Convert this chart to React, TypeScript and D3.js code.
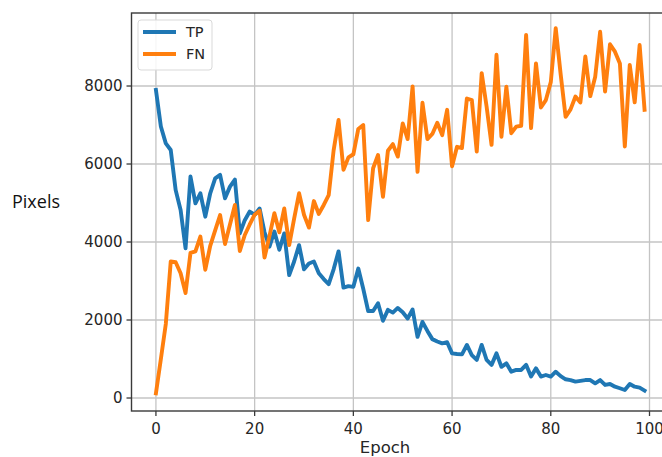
import React, { useEffect } from 'react';
import * as d3 from 'd3';

// per-epoch pixel counts
const tpValues = [
  7900, 6960, 6530, 6360, 5330, 4820, 3840, 5680, 4990, 5250,
  4650, 5250, 5630, 5720, 5120, 5420, 5600, 4220, 4560, 4780,
  4700, 4860, 4250, 3880, 4270, 3800, 4220, 3150, 3500, 3920,
  3300, 3450, 3500, 3200, 3050, 2920, 3300, 3760, 2830, 2870,
  2850, 3320, 2800, 2230, 2230, 2430, 1980, 2260, 2190, 2310,
  2200, 2040, 2270, 1570, 1950, 1720, 1510, 1450, 1400, 1430,
  1145, 1130, 1120, 1360, 1100, 975, 1360, 975, 850, 1145,
  800, 890, 675, 720, 720, 850, 550, 760, 550, 590,
  550, 675, 560, 480, 460, 420, 440, 460, 460, 375,
  460, 335, 360, 290, 250, 205, 360, 290, 265, 190,
];

const fnValues = [
  120, 1000, 1900, 3500, 3480, 3200, 2690, 3720, 3760, 4140,
  3290, 3900, 4300, 4690, 3950, 4450, 4950, 3770, 4180, 4450,
  4700, 4800, 3600, 4150, 4740, 4250, 4860, 3920, 4600, 5250,
  4700, 4370, 5050, 4720, 4950, 5200, 6350, 7130, 5850, 6170,
  6250, 6900, 7000, 4560, 5890, 6230, 5160, 6340, 6510, 6190,
  7040, 6640, 7990, 5800, 7570, 6640, 6770, 7060, 6740, 7390,
  5940, 6440, 6410, 7680, 7640, 6320, 8330, 7470, 6490, 8800,
  6700, 7980, 6790, 6960, 6980, 9310, 6920, 8580, 7450, 7640,
  8100, 9480, 8300, 7210, 7400, 7730, 7580, 8760, 7740, 8240,
  9390, 7860, 9070, 8880, 8580, 6450, 8540, 7580, 9050, 7390,
];

const seriesNames = ['TP', 'FN'];
const seriesColors = ['#1f77b4', '#ff7f0e'];
const xTicks = [0, 20, 40, 60, 80, 100];
const yTicks = [0, 2000, 4000, 6000, 8000];

const W = 662;
const H = 457;
const left = 131.5;
const right = 669;
const top = 13;
const bottom = 411;

export default function App() {
  useEffect(() => {
    document.body.style.margin = '0';
  }, []);

  const x = d3.scaleLinear().domain([-4.95, 103.95]).range([left, right]);
  const y = d3.scaleLinear().domain([-333, 9872]).range([bottom, top]);

  const line = d3
    .line<number>()
    .x((_, i) => x(i))
    .y((d) => y(d));

  const series = [tpValues, fnValues];
  const tickFont = 'DejaVu Sans, sans-serif';

  return (
    <svg width={W} height={H} style={{ display: 'block', background: '#fff' }}>
      <defs>
        <clipPath id="plot">
          <rect x={left} y={top} width={right - left} height={bottom - top} />
        </clipPath>
      </defs>

      {/* grid */}
      {xTicks.map((t) => (
        <line key={'gx' + t} x1={x(t)} x2={x(t)} y1={top} y2={bottom} stroke="#c4c4c4" strokeWidth={1.3} />
      ))}
      {yTicks.map((t) => (
        <line key={'gy' + t} x1={left} x2={right} y1={y(t)} y2={y(t)} stroke="#c4c4c4" strokeWidth={1.3} />
      ))}

      {/* lines */}
      <g clipPath="url(#plot)">
        {series.map((s, i) => (
          <path
            key={seriesNames[i]}
            d={line(s) || ''}
            fill="none"
            stroke={seriesColors[i]}
            strokeWidth={3.9}
            strokeLinejoin="round"
            strokeLinecap="square"
          />
        ))}
      </g>

      {/* spines */}
      <rect x={left} y={top} width={right - left} height={bottom - top} fill="none" stroke="#3a3a3a" strokeWidth={1.4} />

      {/* x axis */}
      {xTicks.map((t) => (
        <g key={'xt' + t}>
          <line x1={x(t)} x2={x(t)} y1={bottom} y2={bottom + 5} stroke="#3a3a3a" strokeWidth={1.3} />
          <text x={x(t)} y={bottom + 23} textAnchor="middle" fontFamily={tickFont} fontSize={15} fill="#262626">
            {t}
          </text>
        </g>
      ))}
      <text x={385} y={453} textAnchor="middle" fontFamily={tickFont} fontSize={16.5} fill="#262626">
        Epoch
      </text>

      {/* y axis */}
      {yTicks.map((t) => (
        <g key={'yt' + t}>
          <line x1={left - 5} x2={left} y1={y(t)} y2={y(t)} stroke="#3a3a3a" strokeWidth={1.3} />
          <text x={left - 9} y={y(t)} dy="0.36em" textAnchor="end" fontFamily={tickFont} fontSize={15} fill="#262626">
            {t}
          </text>
        </g>
      ))}
      <text x={12} y={208} fontFamily="Open Sans, sans-serif" fontSize={18} fill="#111">
        Pixels
      </text>

      {/* legend */}
      <rect x={138} y={20} width={74} height={50} rx={3} fill="#fff" fillOpacity={0.85} stroke="#d9d9d9" strokeWidth={1} />
      {seriesNames.map((n, i) => (
        <g key={'lg' + n}>
          <line x1={143} x2={176} y1={32 + i * 22} y2={32 + i * 22} stroke={seriesColors[i]} strokeWidth={3.9} />
          <text x={186} y={32 + i * 22} dy="0.36em" fontFamily={tickFont} fontSize={14.5} fill="#262626">
            {n}
          </text>
        </g>
      ))}
    </svg>
  );
}
